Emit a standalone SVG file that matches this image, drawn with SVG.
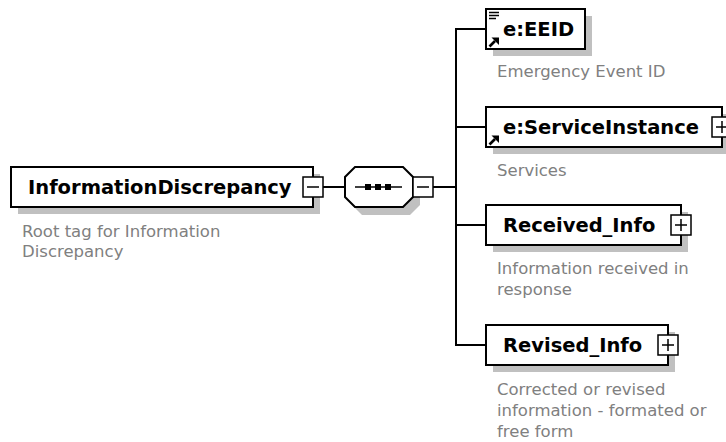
<svg xmlns="http://www.w3.org/2000/svg" width="726" height="442" viewBox="0 0 726 442">
<style>
.box{fill:#fff;stroke:#000;stroke-width:2}
.shadow{fill:#c0c0c0}
.btn{fill:#fff;stroke:#000;stroke-width:1.5}
.sym{stroke:#000;stroke-width:1.5;fill:none}
.conn{stroke:#000;stroke-width:2;fill:none}
.title{font-family:"DejaVu Sans",Verdana,sans-serif;font-weight:bold;font-size:19.5px;fill:#000}
.desc{font-family:"DejaVu Sans",Verdana,sans-serif;font-size:16.5px;fill:#808080}
</style>
<defs>
<g id="ref">
<path d="M1.5,10.5 L7,5" stroke="#000" stroke-width="2.6" fill="none"/>
<path d="M3.5,1.5 L11,1.5 L11,9 Z" fill="#000"/>
</g>
</defs>
<g id="connectors">
<path class="conn" d="M323,187 H345"/>
<path class="conn" d="M433,187 H456"/>
<path class="conn" d="M486,29 H456 V345 H486"/>
<path class="conn" d="M456,127 H486"/>
<path class="conn" d="M456,225 H486"/>
</g>
<g id="InformationDiscrepancy">
<rect class="shadow" x="18" y="174" width="302" height="40"/>
<rect class="box" x="11" y="167" width="302" height="40"/>
<text class="title" x="28" y="194">InformationDiscrepancy</text>
<rect class="btn" x="303" y="177" width="20" height="20"/>
<path class="sym" d="M307,187 H319"/>
<text class="desc" x="22" y="237">Root tag for Information</text>
<text class="desc" x="22" y="257">Discrepancy</text>
</g>
<g id="sequence">
<polygon class="shadow" points="362,175 410,175 420,185 420,205 410,215 362,215 352,205 352,185"/>
<polygon class="box" points="355,167 403,167 413,177 413,197 403,207 355,207 345,197 345,177"/>
<path class="sym" d="M355,187 H402"/>
<rect x="365" y="184" width="6" height="6" fill="#000"/>
<rect x="375" y="184" width="6" height="6" fill="#000"/>
<rect x="385" y="184" width="6" height="6" fill="#000"/>
<rect class="btn" x="413" y="177" width="20" height="20"/>
<path class="sym" d="M417,187 H429"/>
</g>
<g id="EEID">
<rect class="shadow" x="493" y="16" width="99" height="40"/>
<rect class="box" x="486" y="9" width="99" height="40"/>
<path class="sym" d="M489,12.5 H499 M489,15.5 H499 M489,18.5 H496" stroke-width="1.4"/>
<use href="#ref" x="488" y="36"/>
<text class="title" x="503" y="36">e:EEID</text>
<text class="desc" x="497" y="77">Emergency Event ID</text>
</g>
<g id="ServiceInstance">
<rect class="shadow" x="493" y="114" width="236" height="40"/>
<rect class="box" x="486" y="107" width="236" height="40"/>
<use href="#ref" x="488" y="134"/>
<text class="title" x="503" y="134">e:ServiceInstance</text>
<rect class="btn" x="712" y="117" width="20" height="20"/>
<path class="sym" d="M716,127 H728 M722,121 V133"/>
<text class="desc" x="497" y="176">Services</text>
</g>
<g id="Received_Info">
<rect class="shadow" x="493" y="212" width="195" height="40"/>
<rect class="box" x="486" y="205" width="195" height="40"/>
<text class="title" x="503" y="232">Received_Info</text>
<rect class="btn" x="671" y="215" width="20" height="20"/>
<path class="sym" d="M675,225 H687 M681,219 V231"/>
<text class="desc" x="497" y="274">Information received in</text>
<text class="desc" x="497" y="295">response</text>
</g>
<g id="Revised_Info">
<rect class="shadow" x="493" y="332" width="182" height="40"/>
<rect class="box" x="486" y="325" width="182" height="40"/>
<text class="title" x="503" y="352">Revised_Info</text>
<rect class="btn" x="658" y="335" width="20" height="20"/>
<path class="sym" d="M662,345 H674 M668,339 V351"/>
<text class="desc" x="497" y="395">Corrected or revised</text>
<text class="desc" x="497" y="416">information - formated or</text>
<text class="desc" x="497" y="437">free form</text>
</g>
</svg>
